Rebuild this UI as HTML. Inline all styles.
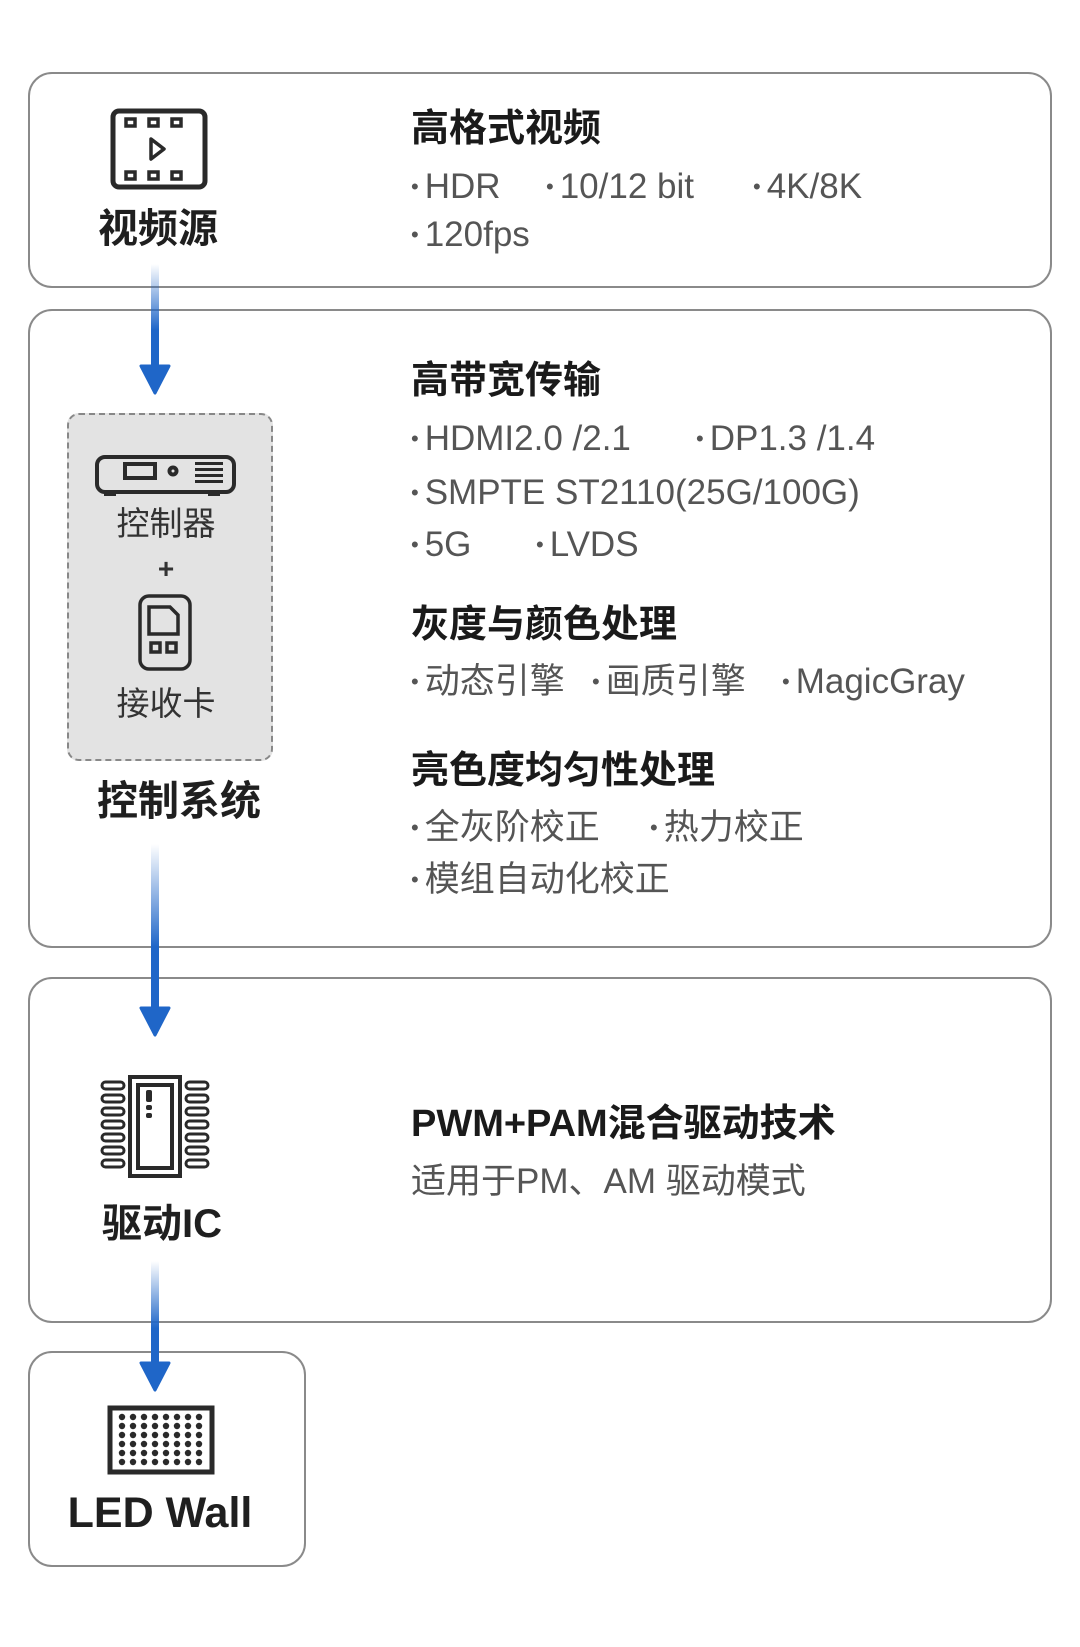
<!DOCTYPE html>
<html><head><meta charset="utf-8"><style>
body{margin:0;width:1080px;height:1647px;background:#fff;position:relative;overflow:hidden;font-family:"Liberation Sans","Noto Sans CJK SC",sans-serif;}
.box{position:absolute;border:2px solid #8a8a8a;border-radius:24px;box-sizing:border-box;background:#fff}
.t{position:absolute;white-space:nowrap;line-height:1;}
.h{font-size:38px;font-weight:bold;color:#1a1a1a}
.b{font-size:35px;color:#555}
.b i{font-style:normal;font-size:22px;vertical-align:4px;margin-right:6px}
.lbl{font-size:40px;font-weight:bold;color:#1f1f1f;text-align:center}
svg{position:absolute;overflow:visible}
</style></head><body>
<div class="box" style="left:28px;top:72px;width:1024px;height:216px"></div>
<div class="box" style="left:28px;top:309px;width:1024px;height:639px"></div>
<div class="box" style="left:28px;top:977px;width:1024px;height:346px"></div>
<div class="box" style="left:28px;top:1351px;width:278px;height:216px"></div>
<div style="position:absolute;left:67px;top:413px;width:206px;height:348px;background:#e3e3e3;border:2px dashed #888;border-radius:12px;box-sizing:border-box"></div>

<svg width="1080" height="1647" style="left:0;top:0">
<defs><linearGradient id="g" x1="0" y1="0" x2="0" y2="1"><stop offset="0" stop-color="#1f66c8" stop-opacity="0"/><stop offset="0.6" stop-color="#1f66c8"/></linearGradient></defs>
<rect x="151" y="264" width="8" height="110" fill="url(#g)"/><path d="M141 366 L169 366 L155 393 Z" fill="#1f66c8" stroke="#1f66c8" stroke-width="3" stroke-linejoin="round"/>
<rect x="151" y="844" width="8" height="172" fill="url(#g)"/><path d="M141 1008 L169 1008 L155 1035 Z" fill="#1f66c8" stroke="#1f66c8" stroke-width="3" stroke-linejoin="round"/>
<rect x="151" y="1261" width="8" height="112" fill="url(#g)"/><path d="M141 1363 L169 1363 L155 1390 Z" fill="#1f66c8" stroke="#1f66c8" stroke-width="3" stroke-linejoin="round"/>
<rect x="113" y="111" width="92" height="76" rx="6" fill="none" stroke="#2a2a2a" stroke-width="5"/>
<g fill="none" stroke="#2a2a2a" stroke-width="3.5"><rect x="126" y="119" width="9" height="7"/><rect x="149" y="119" width="9" height="7"/><rect x="172" y="119" width="9" height="7"/><rect x="126" y="172" width="9" height="7"/><rect x="149" y="172" width="9" height="7"/><rect x="172" y="172" width="9" height="7"/><path d="M151 139 L164 149 L151 159 Z" stroke-linejoin="round"/></g>
<g fill="none" stroke="#2a2a2a" stroke-width="4"><rect x="97" y="457" width="137" height="35" rx="8"/><rect x="125" y="464" width="30" height="14"/><circle cx="173" cy="471" r="3.5"/></g>
<g fill="#2a2a2a"><rect x="195" y="462" width="28" height="3"/><rect x="195" y="468" width="28" height="3"/><rect x="195" y="474" width="28" height="3"/><rect x="195" y="480" width="28" height="3"/><rect x="104" y="492" width="12" height="4"/><rect x="208" y="492" width="12" height="4"/></g>
<g fill="none" stroke="#2a2a2a" stroke-width="3.5"><rect x="140" y="596" width="50" height="73" rx="9"/><path d="M149 607 H170 L178 615 V634 H149 Z"/><rect x="151" y="643" width="9" height="9"/><rect x="167" y="643" width="9" height="9"/></g>
<g fill="none" stroke="#2a2a2a" stroke-width="4"><rect x="130" y="1077" width="50" height="99"/><rect x="138" y="1085" width="34" height="83"/></g>
<g fill="#2a2a2a"><rect x="146" y="1090" width="6" height="12" rx="2"/><rect x="146" y="1105" width="6" height="5" rx="2"/><rect x="146" y="1113" width="6" height="5" rx="2"/></g>
<g fill="none" stroke="#2a2a2a" stroke-width="3">
<rect x="102" y="1082" width="22" height="7" rx="3.5"/><rect x="102" y="1095" width="22" height="7" rx="3.5"/><rect x="102" y="1108" width="22" height="7" rx="3.5"/><rect x="102" y="1121" width="22" height="7" rx="3.5"/><rect x="102" y="1134" width="22" height="7" rx="3.5"/><rect x="102" y="1147" width="22" height="7" rx="3.5"/><rect x="102" y="1160" width="22" height="7" rx="3.5"/>
<rect x="186" y="1082" width="22" height="7" rx="3.5"/><rect x="186" y="1095" width="22" height="7" rx="3.5"/><rect x="186" y="1108" width="22" height="7" rx="3.5"/><rect x="186" y="1121" width="22" height="7" rx="3.5"/><rect x="186" y="1134" width="22" height="7" rx="3.5"/><rect x="186" y="1147" width="22" height="7" rx="3.5"/><rect x="186" y="1160" width="22" height="7" rx="3.5"/></g>
<rect x="110" y="1408" width="102" height="64" fill="none" stroke="#2a2a2a" stroke-width="5"/>
<g fill="#2a2a2a">
<g id="r"><circle cx="122" cy="1417" r="3.2"/><circle cx="133" cy="1417" r="3.2"/><circle cx="144" cy="1417" r="3.2"/><circle cx="155" cy="1417" r="3.2"/><circle cx="166" cy="1417" r="3.2"/><circle cx="177" cy="1417" r="3.2"/><circle cx="188" cy="1417" r="3.2"/><circle cx="199" cy="1417" r="3.2"/></g>
<use href="#r" y="9"/><use href="#r" y="18"/><use href="#r" y="27"/><use href="#r" y="36"/><use href="#r" y="45"/>
</g></svg>

<div class="t lbl" style="left:58px;width:200px;top:209px">视频源</div>
<div class="t" style="left:66px;width:200px;top:507px;font-size:33px;color:#333;text-align:center">控制器</div>
<div class="t" style="left:66px;width:200px;top:555px;font-size:28px;font-weight:bold;color:#333;text-align:center">+</div>
<div class="t" style="left:66px;width:200px;top:687px;font-size:33px;color:#333;text-align:center">接收卡</div>
<div class="t lbl" style="left:79px;width:200px;top:781px;font-size:41px">控制系统</div>
<div class="t lbl" style="left:62px;width:200px;top:1204px">驱动IC</div>
<div class="t" style="left:40px;width:240px;top:1492px;font-size:43px;font-weight:bold;color:#1f1f1f;text-align:center">LED Wall</div>

<div class="t h" style="left:411px;top:110px">高格式视频</div>
<div class="t b" style="left:411px;top:169px"><i>•</i>HDR</div>
<div class="t b" style="left:546px;top:169px"><i>•</i>10/12 bit</div>
<div class="t b" style="left:753px;top:169px"><i>•</i>4K/8K</div>
<div class="t b" style="left:411px;top:217px"><i>•</i>120fps</div>

<div class="t h" style="left:411px;top:362px">高带宽传输</div>
<div class="t b" style="left:411px;top:421px"><i>•</i>HDMI2.0 /2.1</div>
<div class="t b" style="left:696px;top:421px"><i>•</i>DP1.3 /1.4</div>
<div class="t b" style="left:411px;top:475px"><i>•</i>SMPTE ST2110(25G/100G)</div>
<div class="t b" style="left:411px;top:527px"><i>•</i>5G</div>
<div class="t b" style="left:536px;top:527px"><i>•</i>LVDS</div>
<div class="t h" style="left:411px;top:606px">灰度与颜色处理</div>
<div class="t b" style="left:411px;top:664px"><i>•</i>动态引擎</div>
<div class="t b" style="left:592px;top:664px"><i>•</i>画质引擎</div>
<div class="t b" style="left:782px;top:664px"><i>•</i>MagicGray</div>
<div class="t h" style="left:411px;top:752px">亮色度均匀性处理</div>
<div class="t b" style="left:411px;top:810px"><i>•</i>全灰阶校正</div>
<div class="t b" style="left:650px;top:810px"><i>•</i>热力校正</div>
<div class="t b" style="left:411px;top:862px"><i>•</i>模组自动化校正</div>

<div class="t h" style="left:411px;top:1105px">PWM+PAM混合驱动技术</div>
<div class="t b" style="left:411px;top:1164px">适用于PM、AM 驱动模式</div>
</body></html>
